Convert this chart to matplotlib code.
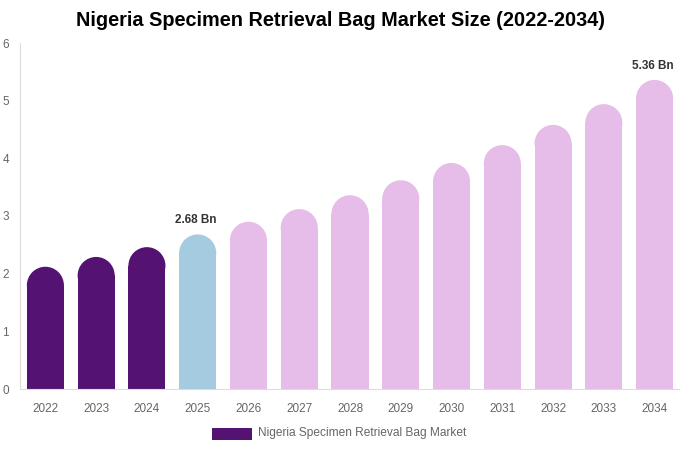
import matplotlib

matplotlib.use("Agg")
import matplotlib.pyplot as plt
from matplotlib.patches import Ellipse, Rectangle

plt.rcParams["font.family"] = ["Liberation Sans", "DejaVu Sans"]

years = ["2022", "2023", "2024", "2025", "2026", "2027", "2028",
         "2029", "2030", "2031", "2032", "2033", "2034"]
values = [2.12, 2.29, 2.46, 2.68, 2.90, 3.12, 3.36, 3.62, 3.92, 4.23, 4.58, 4.94, 5.36]
phase = ["hist", "hist", "hist", "base", "fc", "fc", "fc", "fc", "fc", "fc", "fc", "fc", "fc"]
labels = {3: "2.68 Bn", 12: "5.36 Bn"}

_COLORS = {"hist": "#541272", "base": "#a4cbdf", "fc": "#e6bce8"}
_MUTED = "#666666"
_AXIS = "#dddddd"

W, H = 680, 450
fig = plt.figure(figsize=(W / 100, H / 100), dpi=100)
ax_l, ax_r, ax_t, ax_b = 20, 680, 43, 389
ax = fig.add_axes([ax_l / W, (H - ax_b) / H, (ax_r - ax_l) / W, (ax_b - ax_t) / H])
ymax = 6
ax.set_xlim(-0.5, len(years) - 0.5)
ax.set_ylim(0, ymax)

bw = 0.73
# cap radius in data units (half the bar width in pixels)
px_per_x = (ax_r - ax_l) / len(years)
px_per_y = (ax_b - ax_t) / ymax
r_px = bw * px_per_x / 2
r_y = r_px / px_per_y

for i, (v, ph) in enumerate(zip(values, phase)):
    c = _COLORS[ph]
    ax.add_patch(Rectangle((i - bw / 2, 0), bw, v - r_y, facecolor=c, edgecolor="none"))
    ax.add_patch(Ellipse((i, v - r_y), bw, 2 * r_y, facecolor=c, edgecolor="none"))
    if i in labels:
        ax.text(i - 0.04, v + 0.14, labels[i], ha="center", va="bottom",
                fontsize=8.5, fontweight="bold", color="#333333")

ax.set_xticks(range(len(years)))
ax.set_xticklabels(years)
ax.set_yticks(range(0, ymax + 1))
ax.tick_params(axis="both", length=0, colors=_MUTED, labelsize=8.5)
ax.tick_params(axis="x", pad=10)
ax.tick_params(axis="y", pad=8)
for s in ("top", "right"):
    ax.spines[s].set_visible(False)
ax.spines["left"].set_color(_AXIS)
ax.spines["bottom"].set_color(_AXIS)

fig.text(0.5, 1 - 21 / H, "Nigeria Specimen Retrieval Bag Market Size (2022-2034)",
         ha="center", va="center", fontsize=14.3, fontweight="bold", color="#000000")

fig.patches.append(Rectangle((212 / W, (H - 440) / H), 40 / W, 12 / H,
                             facecolor=_COLORS["hist"], transform=fig.transFigure))
fig.text(258 / W, 1 - 433 / H, "Nigeria Specimen Retrieval Bag Market",
         ha="left", va="center", fontsize=8.6, color=_MUTED)

fig.savefig("out.png", dpi=100, facecolor="white")
plt.close(fig)
